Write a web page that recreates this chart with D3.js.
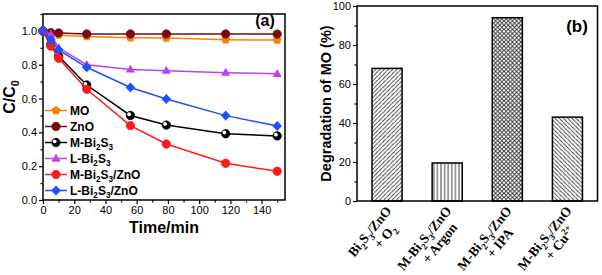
<!DOCTYPE html>
<html><head><meta charset="utf-8">
<script src="https://cdn.jsdelivr.net/npm/d3@7/dist/d3.min.js"></script>
<style>body{margin:0;background:#fff}svg{display:block}</style></head>
<body>
<svg id="c" width="602" height="275"></svg>
<script>
// ---------- DATA ----------
const times = [0, 5, 10, 28, 56, 79, 117, 150];
const seriesNames = ["MO", "ZnO", "M-Bi_2S_3", "L-Bi_2S_3", "M-Bi_2S_3/ZnO", "L-Bi_2S_3/ZnO"];
const moVals      = [1.0, 0.98, 0.975, 0.967, 0.96, 0.958, 0.948, 0.946];
const znoVals     = [1.0, 0.99, 0.988, 0.982, 0.982, 0.982, 0.982, 0.981];
const mBiVals     = [1.0, 0.92, 0.85, 0.68, 0.50, 0.443, 0.392, 0.379];
const lBiVals     = [1.0, 0.98, 0.90, 0.80, 0.772, 0.765, 0.753, 0.746];
const mBiZnoVals  = [1.0, 0.91, 0.838, 0.655, 0.44, 0.331, 0.217, 0.17];
const lBiZnoVals  = [1.0, 0.947, 0.888, 0.785, 0.665, 0.597, 0.499, 0.438];
const xTicksA = [0, 20, 40, 60, 80, 100, 120, 140];
const yTicksA = [0.0, 0.2, 0.4, 0.6, 0.8, 1.0];

const barLine1 = ["Bi_2S_3/ZnO", "M-Bi_2S_3/ZnO", "M-Bi_2S_3/ZnO", "M-Bi_2S_3/ZnO"];
const barLine2 = ["+ O_2", "+ Argon", "+ IPA", "+ Cu^{2+}"];
const barVals  = [68, 19.5, 94, 43];
const yTicksB  = [0, 20, 40, 60, 80, 100];

// ---------- STYLES ----------
const seriesColors = ["#ff8000", "#7a0a0a", "#000000", "#c040f0", "#ff1a1a", "#1f50ff"];
const seriesShapes = ["pentagon", "circle", "halfcircle", "triangle", "circle", "diamond"];
const allVals = [moVals, znoVals, mBiVals, lBiVals, mBiZnoVals, lBiZnoVals];
const sans = "'Liberation Sans', Arial, sans-serif";
const serif = "'Liberation Serif', 'Times New Roman', serif";

const svg = d3.select("#c");

function rich(textSel, str, size) {
  const parts = str.split(/(_\{[^}]*\}|_.|\^\{[^}]*\}|\^.)/).filter(s => s.length);
  let shift = 0;
  parts.forEach(p => {
    let mode = 0, t = p;
    if (p[0] === "_") { mode = 1; t = p.slice(1); }
    else if (p[0] === "^") { mode = -1; t = p.slice(1); }
    if (t[0] === "{") t = t.slice(1, -1);
    const target = mode * size * (mode > 0 ? 0.28 : 0.38);
    const ts = textSel.append("tspan").text(t).attr("dy", target - shift);
    if (mode !== 0) ts.attr("font-size", size * 0.68);
    shift = target;
  });
}

// ---------- PANEL A ----------
const A = {l: 43, r: 285, t: 14, b: 200};
const xA = d3.scaleLinear().domain([0, 155]).range([A.l, A.r]);
const yA = d3.scaleLinear().domain([0, 1.1]).range([A.b, A.t]);

const gA = svg.append("g");
function styleAxis(g) {
  g.selectAll("path.domain").remove();
  g.selectAll("line").attr("stroke", "#000").attr("stroke-width", 1.2);
  g.selectAll("text").attr("font-family", sans).attr("font-size", 11).attr("fill", "#000");
}
gA.append("g").attr("transform", `translate(0,${A.b})`)
  .call(d3.axisBottom(xA).tickValues(xTicksA).tickSize(4).tickPadding(2).tickFormat(d3.format("d")))
  .call(styleAxis);
gA.append("g").attr("transform", `translate(0,${A.b})`)
  .call(d3.axisBottom(xA).tickValues(d3.range(10, 156, 20)).tickSize(2.5).tickFormat(""))
  .call(styleAxis);
gA.append("g").attr("transform", `translate(${A.l},0)`)
  .call(d3.axisLeft(yA).tickValues(yTicksA).tickSize(4).tickPadding(2).tickFormat(d3.format(".1f")))
  .call(styleAxis);
gA.append("g").attr("transform", `translate(${A.l},0)`)
  .call(d3.axisLeft(yA).tickValues([0.1, 0.3, 0.5, 0.7, 0.9, 1.1]).tickSize(2.5).tickFormat(""))
  .call(styleAxis);
gA.append("rect").attr("x", A.l).attr("y", A.t).attr("width", A.r - A.l).attr("height", A.b - A.t)
  .attr("fill", "none").attr("stroke", "#000").attr("stroke-width", 1.5);

function drawMarker(g, shape, color, x, y) {
  const s = 4.2;
  if (shape === "circle") {
    g.append("circle").attr("cx", x).attr("cy", y).attr("r", s).attr("fill", color).attr("stroke", color).attr("stroke-width", 0.8);
  } else if (shape === "halfcircle") {
    g.append("circle").attr("cx", x).attr("cy", y).attr("r", s).attr("fill", "#000").attr("stroke", "#000").attr("stroke-width", 0.8);
    g.append("circle").attr("cx", x - 1.3).attr("cy", y - 1.2).attr("r", 1.9).attr("fill", "#fff");
  } else if (shape === "triangle") {
    g.append("path").attr("d", `M${x},${y - s * 1.15}L${x + s * 1.1},${y + s * 0.75}L${x - s * 1.1},${y + s * 0.75}Z`).attr("fill", color);
  } else if (shape === "diamond") {
    g.append("path").attr("d", `M${x},${y - s * 1.2}L${x + s * 1.15},${y}L${x},${y + s * 1.2}L${x - s * 1.15},${y}Z`).attr("fill", color);
  } else if (shape === "pentagon") {
    const pts = d3.range(5).map(i => {
      const a = -Math.PI / 2 + i * 2 * Math.PI / 5;
      return [x + s * 1.1 * Math.cos(a), y + s * 1.1 * Math.sin(a)];
    });
    g.append("path").attr("d", "M" + pts.join("L") + "Z").attr("fill", color);
  }
}

const line = d3.line().x((d, i) => xA(times[i])).y(d => yA(d));
allVals.forEach((vals, k) => {
  const g = gA.append("g");
  g.append("path").attr("d", line(vals)).attr("fill", "none").attr("stroke", seriesColors[k]).attr("stroke-width", 1.5);
  vals.forEach((v, i) => drawMarker(g, seriesShapes[k], seriesColors[k], xA(times[i]), yA(v)));
});

// legend
seriesNames.forEach((name, k) => {
  const y = 110.5 + k * 16;
  const g = gA.append("g");
  g.append("line").attr("x1", 45).attr("x2", 67).attr("y1", y).attr("y2", y)
    .attr("stroke", seriesColors[k]).attr("stroke-width", 1.5);
  drawMarker(g, seriesShapes[k], seriesColors[k], 56, y);
  const t = g.append("text").attr("x", 70).attr("y", y + 4.2).attr("font-family", sans)
    .attr("font-weight", "bold").attr("font-size", 12).attr("fill", "#000");
  rich(t, name, 12);
});

gA.append("text").attr("x", 265).attr("y", 26).attr("text-anchor", "middle")
  .attr("font-family", sans).attr("font-weight", "bold").attr("font-size", 16).text("(a)");
gA.append("text").attr("x", (A.l + A.r) / 2).attr("y", 233).attr("text-anchor", "middle")
  .attr("font-family", sans).attr("font-weight", "bold").attr("font-size", 16).text("Time/min");
const yl = gA.append("text").attr("transform", `translate(15,${(A.t + A.b) / 2 - 10}) rotate(-90)`)
  .attr("text-anchor", "middle").attr("font-family", sans).attr("font-weight", "bold").attr("font-size", 16);
rich(yl, "C/C_0", 16);

// ---------- PANEL B ----------
const B = {l: 357, r: 597.5, t: 6, b: 201};
const xB = d3.scaleBand().domain(d3.range(barVals.length)).range([B.l, B.r]).paddingInner(0.5).paddingOuter(0.25);
const yB = d3.scaleLinear().domain([0, 100]).range([B.b, B.t]);
const gB = svg.append("g");

const defs = svg.append("defs");
function hatch(id, angles, spacing) {
  const p = defs.append("pattern").attr("id", id).attr("patternUnits", "userSpaceOnUse")
    .attr("width", spacing).attr("height", spacing);
  p.append("rect").attr("width", spacing).attr("height", spacing).attr("fill", "#fff");
  angles.forEach(a => {
    p.append("g").attr("transform", `rotate(${a} ${spacing / 2} ${spacing / 2})`)
      .append("line").attr("x1", spacing / 2).attr("x2", spacing / 2).attr("y1", -spacing).attr("y2", spacing * 2)
      .attr("stroke", "#333").attr("stroke-width", 0.9);
  });
  return `url(#${id})`;
}
const fills = [
  hatch("p1", [45], 4.2),
  hatch("p2", [0], 3.6),
  hatch("p3", [45, -45], 4.2),
  hatch("p4", [-45], 4.2)
];

gB.selectAll("rect.bar").data(barVals).join("rect").attr("class", "bar")
  .attr("x", (d, i) => xB(i)).attr("width", xB.bandwidth())
  .attr("y", d => yB(d)).attr("height", d => yB(0) - yB(d))
  .attr("fill", (d, i) => fills[i]).attr("stroke", "#000").attr("stroke-width", 1.5);

gB.append("g").attr("transform", `translate(${B.l},0)`)
  .call(d3.axisLeft(yB).tickValues(yTicksB).tickSize(4).tickPadding(2).tickFormat(d3.format("d")))
  .call(styleAxis);
gB.append("g").attr("transform", `translate(${B.l},0)`)
  .call(d3.axisLeft(yB).tickValues(d3.range(10, 100, 20)).tickSize(2.5).tickFormat(""))
  .call(styleAxis);
gB.append("rect").attr("x", B.l).attr("y", B.t).attr("width", B.r - B.l).attr("height", B.b - B.t)
  .attr("fill", "none").attr("stroke", "#000").attr("stroke-width", 1.5);

const fsB = 13.5;
barVals.forEach((v, i) => {
  const cx = xB(i) + xB.bandwidth() / 2;
  const g = gB.append("g").attr("transform", `translate(${cx + 5},${B.b + 10}) rotate(-51)`);
  const t1 = g.append("text").attr("x", 0).attr("y", 0).attr("text-anchor", "end")
    .attr("font-family", serif).attr("font-weight", "bold").attr("font-size", fsB);
  rich(t1, barLine1[i], fsB);
  const w = t1.node().getComputedTextLength();
  const t2 = g.append("text").attr("x", -w / 2 + 6).attr("y", 15).attr("text-anchor", "middle")
    .attr("font-family", serif).attr("font-weight", "bold").attr("font-size", fsB);
  rich(t2, barLine2[i], fsB);
});

gB.append("text").attr("x", 577).attr("y", 32).attr("text-anchor", "middle")
  .attr("font-family", sans).attr("font-weight", "bold").attr("font-size", 17).text("(b)");
gB.append("text").attr("transform", `translate(331,${(B.t + B.b) / 2}) rotate(-90)`)
  .attr("text-anchor", "middle").attr("font-family", sans).attr("font-weight", "bold").attr("font-size", 14.5)
  .text("Degradation of MO (%)");
</script>
</body></html>
